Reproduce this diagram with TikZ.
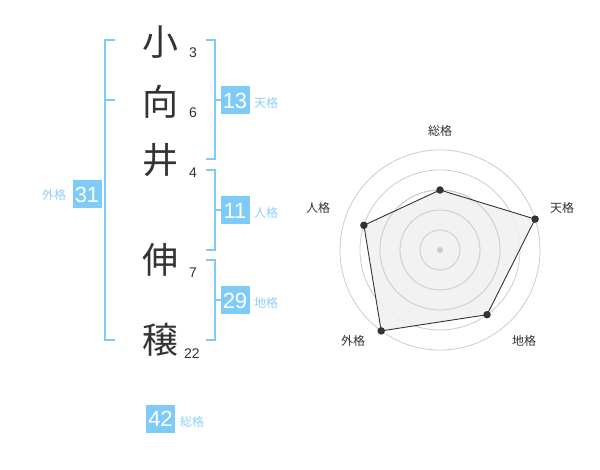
\documentclass[tikz,border=0pt]{standalone}
\usepackage{fontspec}
\setmainfont{Liberation Sans}
\newfontfamily\cjk{Noto Sans CJK JP}
\definecolor{boxblue}{HTML}{7FCBF7}
\definecolor{lblblue}{HTML}{8DD0F6}
\definecolor{ink}{HTML}{333333}
\definecolor{ringgray}{HTML}{CCCCCC}
\definecolor{polyfill}{HTML}{F0F0F0}
\begin{document}
\begin{tikzpicture}[x=1pt,y=-1pt,
  kanji/.style={font=\cjk\fontsize{36}{36}\selectfont, text=ink, inner sep=0},
  stroke/.style={font=\fontsize{14}{14}\selectfont, text=ink, inner sep=0},
  valbox/.style={fill=boxblue, text=white, minimum width=29, minimum height=28, inner sep=0, font=\fontsize{22}{22}\selectfont},
  kaku/.style={font=\cjk\fontsize{12}{12}\selectfont, text=lblblue, inner sep=0},
  bracket/.style={draw=boxblue, line width=2pt},
  ring/.style={draw=ringgray, line width=0.8pt},
  rlabel/.style={font=\cjk\fontsize{12}{12}\selectfont, text=ink, inner sep=0},
  dot/.style={circle, fill=ink, inner sep=0, minimum size=7.5}]
\useasboundingbox (0,0) rectangle (600,470);
% characters
\node[kanji] (c1) at (160,42) {小};
\node[kanji] (c2) at (160,102) {向};
\node[kanji] (c3) at (160,160) {井};
\node[kanji] (c4) at (160,260) {伸};
\node[kanji] (c5) at (160,340) {穣};
\node[stroke] (s1) at (193,52.5) {3};
\node[stroke] (s2) at (193,113) {6};
\node[stroke] (s3) at (193,173) {4};
\node[stroke] (s4) at (193,273) {7};
\node[stroke] (s5) at (192,353.5) {22};
% brackets
\draw[bracket] (115,40) -- (105,40) -- (105,340) -- (115,340);
\draw[bracket] (105,100) -- (115,100);
\draw[bracket] (206,40) -- (215,40) -- (215,159) -- (206,159);
\draw[bracket] (215,100) -- (221,100);
\draw[bracket] (206,170) -- (215,170) -- (215,250) -- (206,250);
\draw[bracket] (215,210) -- (221,210);
\draw[bracket] (206,260) -- (215,260) -- (215,340) -- (206,340);
\draw[bracket] (215,300) -- (221,300);
% value boxes
\node[valbox] (v31) at (87,194.5) {31};
\node[valbox] (v13) at (235,100.5) {13};
\node[valbox] (v11) at (235,210.5) {11};
\node[valbox] (v29) at (235,300.5) {29};
\node[valbox] (v42) at (160.5,419) {42};
\node[kaku] (k31) at (54,195) {外格};
\node[kaku] (k13) at (266,103) {天格};
\node[kaku] (k11) at (266,213) {人格};
\node[kaku] (k29) at (266,303) {地格};
\node[kaku] (k42) at (192,422) {総格};
% radar
\coordinate (C) at (440,250);
\foreach \r in {20,40,60,80,100} \draw[ring] (C) circle[radius=\r];
\coordinate (pS) at (440,190);
\coordinate (pT) at (535.1,219.1);
\coordinate (pC) at (487.0,314.7);
\coordinate (pG) at (381.2,330.9);
\coordinate (pJ) at (363.9,225.3);
\fill[polyfill, opacity=0.85] (pS) -- (pT) -- (pC) -- (pG) -- (pJ) -- cycle;
\foreach \r in {20,40,60} \draw[ring] (C) circle[radius=\r];
\draw[ink, line width=0.9pt] (pS) -- (pT) -- (pC) -- (pG) -- (pJ) -- cycle;
\node[dot] (dS) at (pS) {};
\node[dot] (dT) at (pT) {};
\node[dot] (dC) at (pC) {};
\node[dot] (dG) at (pG) {};
\node[dot] (dJ) at (pJ) {};
\node[circle, fill=ringgray, inner sep=0, minimum size=6] (ctr) at (C) {};
\node[rlabel] (lS) at (440,130.5) {総格};
\node[rlabel] (lT) at (562,208) {天格};
\node[rlabel] (lC) at (524,341) {地格};
\node[rlabel] (lG) at (353,341) {外格};
\node[rlabel] (lJ) at (318,208) {人格};
\end{tikzpicture}
\end{document}
